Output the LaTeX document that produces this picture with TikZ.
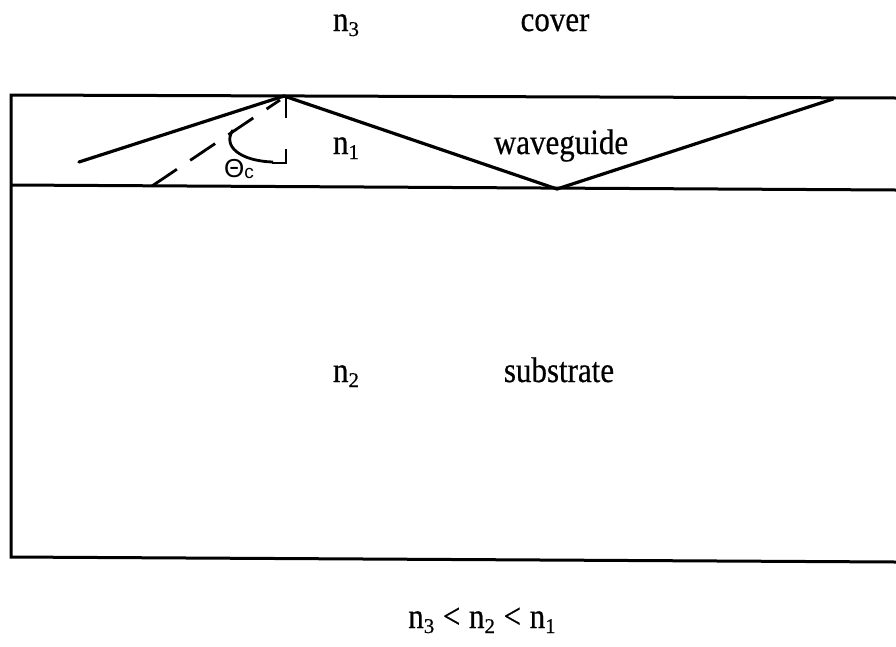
\documentclass[tikz,border=0pt]{standalone}
\usepackage{fontspec}
\usepackage{graphicx}
\setmainfont{Liberation Serif}
\newfontfamily\lblfont[FakeBold=0.5]{Liberation Serif}
\newfontfamily\symfont{Liberation Sans}
\newcommand{\tall}[1]{\scalebox{1}[1.15]{#1}}
\newcommand{\dsub}[1]{\raisebox{-5pt}{\fontsize{21}{21}\selectfont #1}}
\begin{document}
\begin{tikzpicture}[x=1pt,y=-1pt,
  edge/.style={line width=3pt},
  ray/.style={line width=3.2pt,line cap=round},
  lbl/.style={font=\lblfont\fontsize{31}{34}\selectfont,inner sep=0pt,anchor=base},
  dsh/.style={line width=2.8pt,dash pattern=on 30pt off 16pt}]
\useasboundingbox (0,0) rectangle (896,646);
% layers
\coordinate (tl) at (11,95);
\coordinate (tr) at (896,98);
\coordinate (ml) at (11,185);
\coordinate (mr) at (896,190);
\coordinate (bl) at (11,557);
\coordinate (br) at (896,562);
\draw[edge] (tr) -- (tl) -- (bl) -- (br);
\draw[edge] (ml) -- (mr);
% rays
\coordinate (start) at (79,162);
\coordinate (apex) at (284,96);
\coordinate (low) at (557,189);
\coordinate (end) at (833,99);
\draw[ray] (start) -- (apex) -- (low) -- (end);
% dashed extension
\coordinate (d0) at (152,186);
\coordinate (d1) at (280,100);
\draw[dsh] (d0) -- (d1);
% normal
\coordinate (n0) at (286,98);
\coordinate (n1) at (286,163);
\draw[line width=2.8pt,dash pattern=on 20pt off 32pt] (n0) -- (n1);
\draw[line width=2.8pt] (286,149) -- (n1) -- (272,163);
% angle arc
\coordinate (a0) at (233,130);
\draw[line width=2.8pt] (a0) .. controls (222,146) and (240,161) .. (273,162);
% labels
\node[lbl] (n3) at (346,31) {\tall{n}\dsub{3}};
\node[lbl] (cover) at (555,31) {\tall{cover}};
\node[lbl] (n1l) at (346,154) {\tall{n}\dsub{1}};
\node[lbl] (wg) at (561,154) {\tall{waveguide}};
\node[lbl] (n2) at (346,382) {\tall{n}\dsub{2}};
\node[lbl] (sub) at (559,382) {\tall{substrate}};
\node[lbl] (rel) at (482,628) {\tall{n}\dsub{3}\;\tall{<}\;\tall{n}\dsub{2}\;\tall{<}\;\tall{n}\dsub{1}};
\node[inner sep=0pt,anchor=base,font=\symfont\fontsize{26}{27}\selectfont] (theta) at (239,177) {Θ\raisebox{-1pt}{\fontsize{19}{20}\selectfont c}};
\end{tikzpicture}
\end{document}
